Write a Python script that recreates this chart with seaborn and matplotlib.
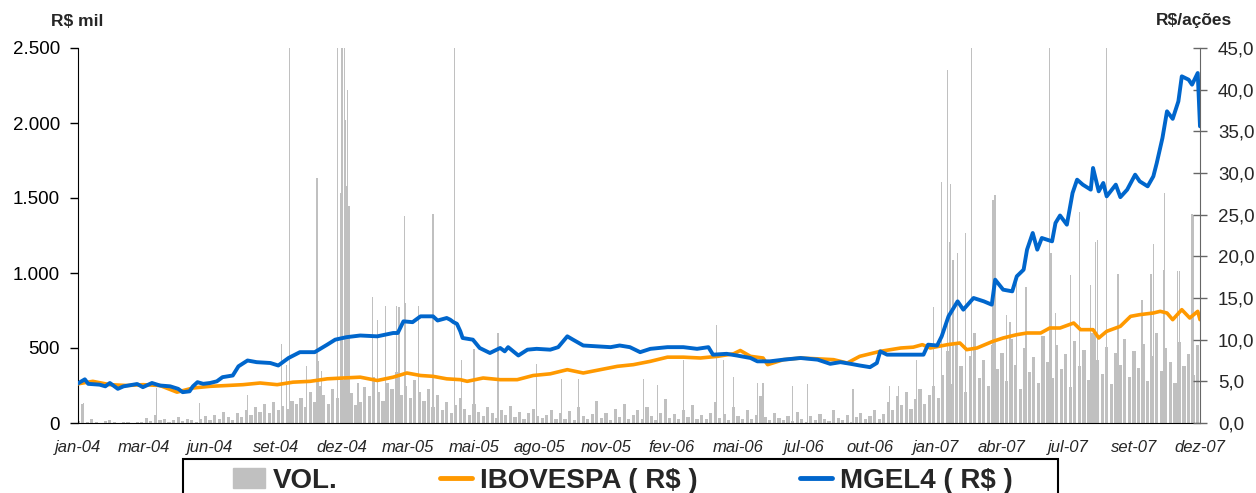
import numpy as np
import matplotlib
matplotlib.use('Agg')
import matplotlib.pyplot as plt
import seaborn as sns
from matplotlib.ticker import FixedLocator, FuncFormatter
from matplotlib.patches import Rectangle, Patch
from matplotlib.lines import Line2D

# ==========================================
# DADOS (eixo x = pregões desde jan-04)
# ==========================================
n_days = 986
x_labels = ['jan-04', 'mar-04', 'jun-04', 'set-04', 'dez-04', 'mar-05', 'mai-05', 'ago-05', 'nov-05',
            'fev-06', 'mai-06', 'jul-06', 'out-06', 'jan-07', 'abr-07', 'jul-07', 'set-07', 'dez-07']

# MGEL4 (R$/ação)
mgel_days = [0, 6, 9, 19, 24, 28, 35, 40, 52, 57, 65, 72, 81, 88, 92, 98, 101, 105, 110, 116,
             122, 127, 136, 141, 149, 157, 169, 176, 185, 195, 208, 219, 226, 236, 248, 263, 277, 281, 286, 294,
             301, 312, 316, 324, 327, 330, 333, 336, 338, 347, 353, 362, 371, 375, 378, 387, 395, 403, 415, 422,
             430, 435, 444, 456, 468, 476, 485, 494, 503, 518, 532, 544, 554, 558, 570, 579, 591, 597, 608, 620,
             635, 650, 661, 670, 679, 687, 696, 702, 705, 711, 720, 731, 743, 747, 755, 759, 765, 773, 778, 787,
             796, 803, 806, 813, 821, 825, 831, 834, 839, 843, 847, 856, 859, 863, 869, 874, 878, 883, 890, 892,
             897, 901, 904, 912, 916, 922, 929, 933, 940, 945, 948, 953, 957, 962, 967, 970, 976, 979, 984, 986]
mgel_vals = [4.76, 5.24, 4.7, 4.6, 4.4, 4.8, 4.1, 4.4, 4.68, 4.3, 4.8, 4.5, 4.4, 4.1, 3.7, 3.8, 4.4, 4.9, 4.7, 4.8,
             5.0, 5.5, 5.7, 6.8, 7.5, 7.3, 7.2, 6.9, 7.8, 8.5, 8.5, 9.4, 10.0, 10.3, 10.5, 10.4, 10.8, 10.8, 12.2, 12.1,
             12.8, 12.8, 12.3, 12.6, 12.4, 12.1, 11.9, 11.0, 10.2, 10.0, 9.0, 8.4, 9.0, 8.6, 9.1, 8.1, 8.8, 8.9, 8.8, 9.1,
             10.4, 10.0, 9.3, 9.2, 9.1, 9.3, 9.1, 8.5, 8.9, 9.1, 9.1, 8.9, 9.1, 8.2, 8.3, 8.1, 7.8, 7.4, 7.4, 7.6,
             7.8, 7.6, 7.1, 7.3, 7.1, 6.9, 6.7, 7.2, 8.6, 8.2, 8.2, 8.2, 8.2, 9.4, 9.3, 10.4, 12.8, 14.6, 13.6, 15.0,
             14.6, 14.2, 17.2, 16.0, 15.8, 17.6, 18.4, 20.8, 22.8, 20.8, 22.2, 21.8, 24.0, 24.9, 23.8, 27.6, 29.2, 28.6, 28.0, 30.6,
             27.8, 28.8, 27.2, 28.6, 27.1, 28.0, 29.8, 29.0, 28.4, 29.6, 31.2, 34.2, 37.4, 36.5, 38.6, 41.6, 41.2, 40.6, 42.0, 35.6]

# IBOVESPA (R$, mesma escala)
ibov_days = [0, 13, 28, 43, 57, 72, 87, 101, 116, 131, 145, 160, 175, 189, 204, 219, 233, 248, 263, 277,
             289, 301, 312, 324, 336, 342, 356, 371, 386, 400, 415, 430, 444, 459, 474, 488, 503, 518, 532, 547,
             562, 576, 582, 591, 602, 606, 620, 635, 650, 664, 676, 687, 705, 723, 734, 742, 749, 764, 775, 781,
             790, 804, 813, 825, 834, 846, 854, 863, 875, 881, 892, 897, 904, 916, 925, 933, 945, 951, 957, 962,
             970, 977, 984, 986]
ibov_vals = [4.7, 5.0, 4.6, 4.5, 4.6, 4.5, 3.7, 4.2, 4.4, 4.5, 4.6, 4.8, 4.6, 4.9, 5.0, 5.3, 5.4, 5.5, 5.1, 5.5,
             6.0, 5.7, 5.6, 5.3, 5.2, 5.0, 5.4, 5.2, 5.2, 5.7, 5.9, 6.4, 6.0, 6.4, 6.8, 7.0, 7.4, 7.9, 7.9, 7.8,
             8.0, 8.3, 8.7, 8.0, 7.8, 7.0, 7.6, 7.8, 7.7, 7.6, 7.2, 8.0, 8.6, 9.0, 9.1, 9.4, 9.0, 9.4, 9.6, 8.8,
             9.0, 9.8, 10.2, 10.6, 10.8, 10.8, 11.4, 11.4, 12.0, 11.2, 11.2, 10.2, 11.0, 11.6, 12.8, 13.0, 13.2, 13.4, 13.2, 12.4,
             13.6, 12.6, 13.4, 12.4]

# Volume (R$ mil): nível de base a cada 4 pregões
vol_base = [15, 130, 8, 25, 5, 0, 12, 20, 4, 0, 6, 10, 0, 4,
            8, 35, 12, 55, 18, 28, 10, 22, 40, 14, 30, 18, 10,
            28, 45, 18, 55, 30, 75, 38, 22, 65, 42, 85,
            55, 105, 75, 125, 65, 140, 85, 115, 95, 150, 130,
            170, 110, 210, 140, 250, 190, 130, 230, 170, 290, 150, 200, 120,
            140, 240, 180, 310, 210, 150, 270, 230, 340, 190, 250, 170, 290, 210,
            150, 230, 110, 190, 85, 140, 65, 120, 170, 95, 55, 130, 75,
            45, 105, 65, 35, 85, 55, 115, 40, 75, 28, 65, 95, 45, 35, 55, 85, 28, 65,
            30, 80, 20, 110, 45, 25, 60, 150, 35, 70, 20, 95, 40, 130, 25, 55, 85, 30, 110, 45,
            20, 70, 160, 35, 60, 25, 90, 40, 120, 30, 55,
            25, 70, 140, 35, 60, 20, 110, 45, 30, 85, 25, 55, 180, 40, 20, 65, 35,
            20, 50, 15, 75, 30, 10, 45, 20, 60, 25, 15, 90, 35, 20, 55, 10, 40, 70, 25, 45, 85, 30,
            60, 140, 90, 180, 120, 210, 95, 160, 230, 130, 190, 250, 170,
            320, 480, 260, 540, 380, 210, 450, 600, 300, 420,
            250, 520, 360, 470, 280, 560, 390, 230, 500, 340,
            440, 270, 580, 410, 300, 520, 360, 460, 240, 550,
            380, 490, 290, 600, 420, 330, 510, 260, 470, 390,
            560, 310, 480, 370, 530, 280, 450, 600, 350, 500,
            410, 270, 540, 380, 460, 320, 520]

# Volume (R$ mil): picos isolados
spike_days = [5, 69, 107, 149, 179, 183, 186, 201, 210, 211, 214, 228, 231, 232, 234, 235, 236, 237, 238, 246,
              259, 263, 270, 280, 282, 287, 288, 299, 312, 331, 337, 348, 369, 403, 425, 440, 497, 509, 532, 561,
              567, 576, 597, 602, 628, 641, 681, 713, 721, 737, 752, 759, 764, 766, 767, 769, 773, 780, 785, 804,
              806, 816, 819, 825, 833, 854, 855, 859, 872, 880, 890, 894, 896, 904, 914, 935, 943, 945, 954, 955,
              966, 968, 979, 980]
spike_vals = [133, 233, 133, 189, 527, 387, 3000, 378, 1633, 411, 344, 3000, 1533, 3000, 3000, 2022, 1578, 2222, 1444, 267,
              840, 689, 778, 778, 773, 1380, 800, 778, 1393, 3000, 420, 491, 600, 393, 291, 291, 291, 253, 420, 653,
              420, 309, 264, 264, 247, 260, 229, 247, 247, 420, 776, 1607, 2353, 1207, 1596, 1087, 1131, 1264, 3000, 1487,
              1520, 720, 676, 996, 907, 3000, 1131, 731, 987, 1409, 918, 1207, 1220, 3000, 996, 820, 996, 1196, 1022, 1531,
              1016, 1016, 1393, 1387]

C_VOL, C_IBOV, C_MGEL = '#C0C0C0', '#FF9900', '#0066CC'

sns.set_style("white")
plt.rcParams['font.family'] = ['Liberation Sans', 'DejaVu Sans']

fig = plt.figure(figsize=(12.56, 4.93), dpi=100)
ax = fig.add_axes([78 / 1256, 1 - 423 / 493, 1122 / 1256, 375 / 493])

base_days = np.arange(len(vol_base)) * 4
ax.bar(base_days, vol_base, width=2.8, color=C_VOL, linewidth=0)
ax.bar(spike_days, spike_vals, width=1.2, color=C_VOL, linewidth=0)
ax.set_xlim(0, n_days)
ax.set_ylim(0, 2500)

ax2 = ax.twinx()
sns.lineplot(x=ibov_days, y=ibov_vals, ax=ax2, color=C_IBOV, lw=2.6, sort=False, estimator=None)
sns.lineplot(x=mgel_days, y=mgel_vals, ax=ax2, color=C_MGEL, lw=2.8, sort=False, estimator=None)
ax2.set_ylim(0, 45)
ax2.set_xlim(0, n_days)
ax2.set_ylabel('')

# eixos
for s in ['top', 'right']:
    ax.spines[s].set_visible(False)
for s in ['top', 'left', 'bottom']:
    ax2.spines[s].set_visible(False)
ax.spines['left'].set_color('black')
ax.spines['bottom'].set_color('black')
ax2.spines['right'].set_color('#666666')

ax.yaxis.set_major_locator(FixedLocator(np.arange(0, 2501, 500)))
ax.yaxis.set_major_formatter(FuncFormatter(lambda v, p: f'{v:,.0f}'.replace(',', '.')))
ax.tick_params(axis='y', direction='out', length=6, width=1, labelsize=13.5, pad=7, colors='black')

ax2.yaxis.set_major_locator(FixedLocator(np.arange(0, 46, 5)))
ax2.yaxis.set_major_formatter(FuncFormatter(lambda v, p: f'{v:.1f}'.replace('.', ',')))
ax2.tick_params(axis='y', direction='inout', length=10, width=1, color='#666666', labelsize=13.5, pad=8)

ax.xaxis.set_major_locator(FixedLocator(np.linspace(0, n_days, len(x_labels))))
ax.set_xticklabels(x_labels, fontstyle='italic', fontsize=12)
ax.tick_params(axis='x', which='major', length=0, pad=12)
ax.xaxis.set_minor_locator(FixedLocator(np.linspace(0, n_days, 12)))
ax.tick_params(axis='x', which='minor', direction='out', length=5, width=1, color='black')

fig.text(77 / 1256, 1 - 21 / 493, 'R$ mil', ha='center', va='center', fontweight='bold', fontsize=12.5)
fig.text(1194 / 1256, 1 - 21 / 493, 'R$/ações', ha='center', va='center', fontweight='bold', fontsize=12.5)

# legenda
fig.patches.append(Rectangle((183 / 1256, -0.1), (1058 - 183) / 1256, 0.1 + 1 - 459 / 493,
                             transform=fig.transFigure, fill=False, ec='black', lw=1.5))
handles = [Patch(color=C_VOL), Line2D([], [], color=C_IBOV, lw=3.5), Line2D([], [], color=C_MGEL, lw=3.5)]
fig.legend(handles, ['VOL.', 'IBOVESPA ( R$ )', 'MGEL4 ( R$ )'], loc='center left',
           bbox_to_anchor=(233 / 1256, 1 - 481 / 493), ncol=3, frameon=False,
           prop={'size': 20, 'weight': 'bold'}, handlelength=1.15, handleheight=0.75,
           handletextpad=0.3, columnspacing=3.67, borderpad=0, borderaxespad=0)

plt.savefig('out.png', dpi=100)
